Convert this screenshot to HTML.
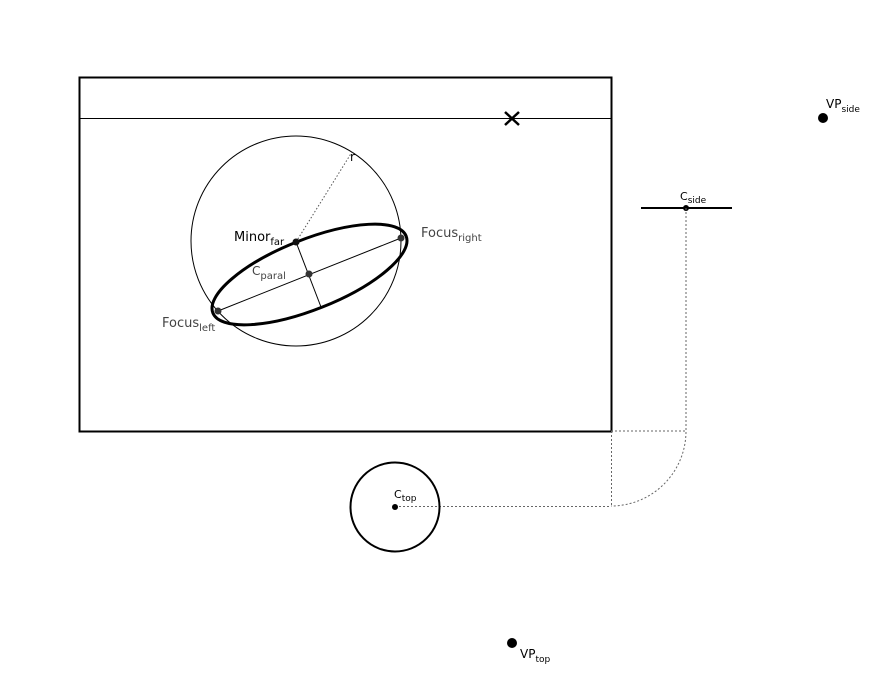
<!DOCTYPE html>
<html><head><style>body{margin:0;background:#fff}svg{display:block}text{font-family:"DejaVu Sans","Liberation Sans",sans-serif}</style></head><body>
<svg width="892" height="687" xmlns="http://www.w3.org/2000/svg">
<rect x="79.5" y="77.5" width="532" height="354" fill="none" stroke="#000" stroke-width="2"/>
<line x1="79" y1="118.5" x2="611" y2="118.5" stroke="#000" stroke-width="1"/>
<path d="M505 112 L519 125 M519 112 L505 125" stroke="#000" stroke-width="2.5"/>
<circle cx="296" cy="241" r="105" fill="none" stroke="#000" stroke-width="1"/>
<line x1="296" y1="242" x2="352" y2="152" stroke="#555" stroke-dasharray="1.5,2"/>
<text x="350" y="161" font-size="12">r</text>
<ellipse cx="309.5" cy="274.5" rx="104" ry="35" transform="rotate(-21.7 309.5 274.5)" fill="none" stroke="#000" stroke-width="3"/>
<line x1="218" y1="311" x2="401" y2="238" stroke="#000"/>
<line x1="296" y1="242" x2="321" y2="307" stroke="#000"/>
<circle cx="218" cy="311" r="3.5" fill="#333"/>
<circle cx="401" cy="238" r="3.5" fill="#333"/>
<circle cx="296" cy="242" r="3.5" fill="#111"/>
<circle cx="309" cy="274" r="3.5" fill="#333"/>
<text x="234" y="241" font-size="13">Minor<tspan font-size="10" dy="4">far</tspan></text>
<text x="421" y="237" font-size="13" fill="#444">Focus<tspan font-size="10" dy="4">right</tspan></text>
<text x="252" y="275" font-size="12" fill="#444">C<tspan font-size="10" dy="4">paral</tspan></text>
<text x="162" y="327" font-size="13" fill="#444">Focus<tspan font-size="10" dy="4">left</tspan></text>
<line x1="641" y1="208" x2="732" y2="208" stroke="#000" stroke-width="2"/>
<circle cx="686" cy="208" r="3" fill="#000"/>
<text x="680" y="200" font-size="11">C<tspan font-size="9" dy="3">side</tspan></text>
<g stroke="#666" stroke-dasharray="2,2" fill="none">
<path d="M686 208 V431 A75 75 0 0 1 611 506"/>
<line x1="611" y1="431" x2="686" y2="431"/>
<line x1="611.5" y1="431" x2="611.5" y2="506"/>
<line x1="395" y1="506.5" x2="611" y2="506.5"/>
</g>
<circle cx="395" cy="507" r="44.5" fill="none" stroke="#000" stroke-width="2"/>
<circle cx="395" cy="507" r="3" fill="#000"/>
<text x="394" y="498" font-size="11">C<tspan font-size="9" dy="3">top</tspan></text>
<circle cx="512" cy="643" r="5" fill="#000"/>
<text x="520" y="658" font-size="12">VP<tspan font-size="9" dy="4">top</tspan></text>
<circle cx="823" cy="118" r="5" fill="#000"/>
<text x="826" y="108" font-size="12">VP<tspan font-size="9" dy="4">side</tspan></text>
</svg>
</body></html>
